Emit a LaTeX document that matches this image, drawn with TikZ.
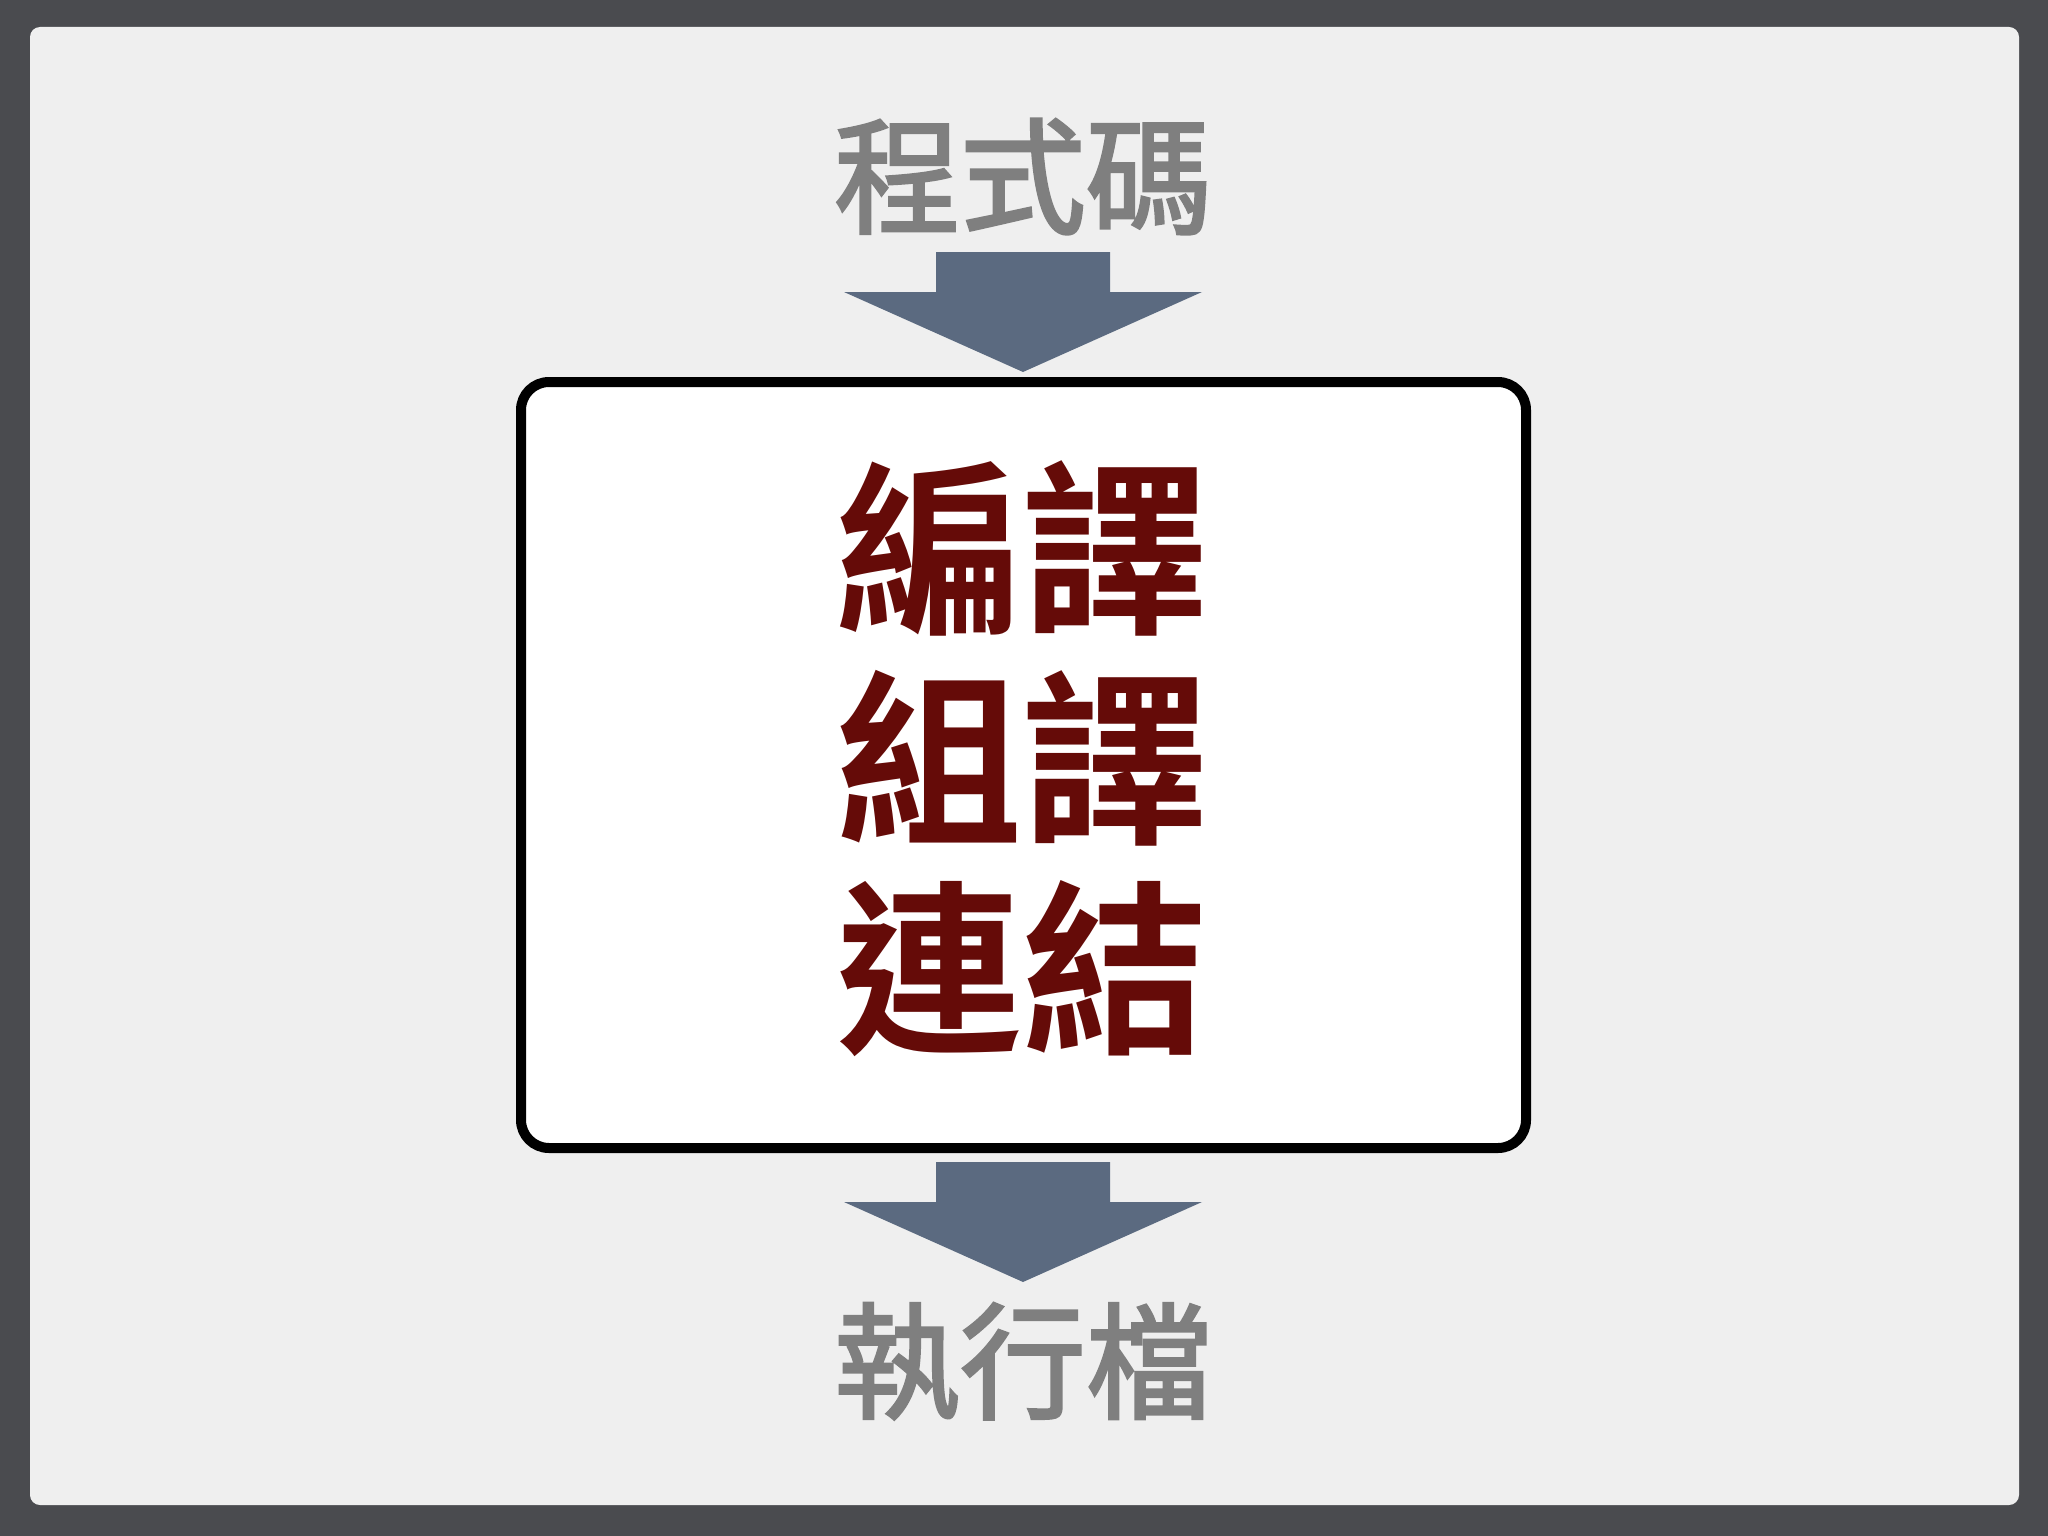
\documentclass[tikz,border=0pt]{standalone}
\usepackage{fontspec}
\newfontfamily\cjk{Noto Sans CJK TC}[FakeBold=2.2]
\newfontfamily\cjkb{Noto Sans CJK TC Bold}
\definecolor{frameC}{HTML}{4A4B4F}
\definecolor{panelC}{HTML}{EFEFEF}
\definecolor{arrowC}{HTML}{5B6A80}
\definecolor{grayT}{HTML}{7F7F7F}
\definecolor{redT}{HTML}{650B08}
\tikzset{
  graytext/.style={font=\cjk\fontsize{126}{126}\selectfont, text=grayT, inner sep=0pt, anchor=base},
  redtext/.style={font=\cjkb\fontsize{186}{186}\selectfont, text=redT, inner sep=0pt, anchor=base},
  blockarrow/.style={fill=arrowC, draw=none},
  procbox/.style={draw=black, line width=10pt, fill=white, rounded corners=28pt},
}
\begin{document}
\begin{tikzpicture}[x=1pt,y=-1pt]
\useasboundingbox (0,0) rectangle (2048,1536);
\fill[frameC] (0,0) rectangle (2048,1536);
\fill[panelC, rounded corners=10pt] (30,27) rectangle (2019,1505);
% box
\draw[procbox] (521,382) rectangle (1526,1148);
\coordinate (boxtop) at (1023,382);
\coordinate (boxbot) at (1023,1148);
% texts
\node[graytext] (src) at (1023,224) {程式碼};
\node[redtext] (l1) at (1022,619) {編譯};
\node[redtext] (l2) at (1022,829) {組譯};
\node[redtext] (l3) at (1022,1039) {連結};
\node[graytext] (exe) at (1023,1409) {執行檔};
% arrows
\fill[blockarrow] (936,252) -- (1110,252) -- (1110,292) -- (1202,292) -- (1023,372) -- (844,292) -- (936,292) -- cycle;
\fill[blockarrow] (936,1162) -- (1110,1162) -- (1110,1202) -- (1202,1202) -- (1023,1282) -- (844,1202) -- (936,1202) -- cycle;
\end{tikzpicture}
\end{document}
